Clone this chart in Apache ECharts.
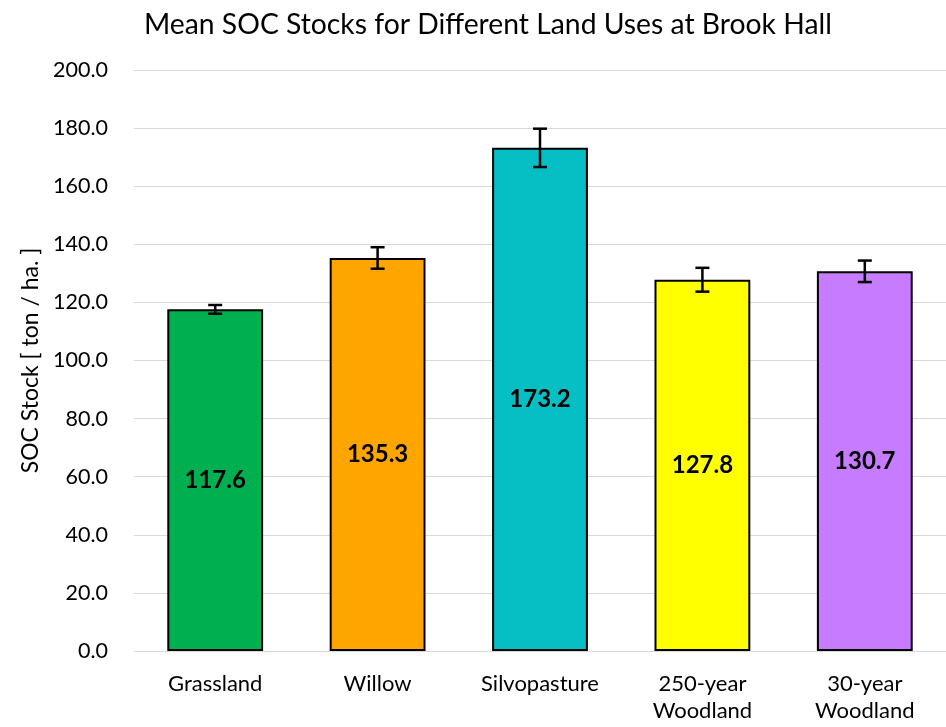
<!DOCTYPE html>
<html>
<head>
<meta charset="utf-8">
<script src="https://cdn.jsdelivr.net/npm/echarts@6/dist/echarts.min.js"></script>
<style>
  html, body { margin: 0; padding: 0; background: #fff; }
  #chart { width: 946px; height: 727px; }
</style>
</head>
<body>
<div id="chart"></div>
<script>
// data
const categories = ["Grassland", "Willow", "Silvopasture", "250-year\nWoodland", "30-year\nWoodland"];
const meanValues = [117.6, 135.3, 173.2, 127.8, 130.7];
const errValues = [1.5, 3.7, 6.6, 4.1, 3.7];
const barColors = ["#00b050", "#ffa500", "#06bfc4", "#ffff00", "#c77cff"];

const font = "Lato, 'DejaVu Sans', sans-serif";

let chart = echarts.init(document.getElementById("chart"));

let option = {
  animation: false,
  title: {
    text: "Mean SOC Stocks for Different Land Uses at Brook Hall",
    left: 139,
    top: 6,
    textStyle: { fontFamily: font, fontSize: 28.3, fontWeight: "normal", color: "#000" }
  },
  grid: { left: 134, right: 0, top: 70, bottom: 76 },
  xAxis: {
    type: "category",
    data: categories,
    axisLine: { lineStyle: { color: "#d9d9d9" } },
    axisTick: { show: false },
    axisLabel: { fontFamily: font, fontSize: 22, color: "#000", margin: 19, lineHeight: 27 }
  },
  yAxis: {
    type: "value",
    min: 0,
    max: 200,
    interval: 20,
    name: "SOC Stock [ ton / ha. ]",
    nameLocation: "middle",
    nameGap: 84,
    nameTextStyle: { fontFamily: font, fontSize: 23, color: "#000" },
    axisLine: { show: false },
    axisTick: { show: false },
    axisLabel: {
      fontFamily: font, fontSize: 21.5, color: "#000", margin: 26,
      formatter: v => v.toFixed(1)
    },
    splitLine: { lineStyle: { color: "#d9d9d9", width: 1 } }
  },
  series: [
    {
      type: "bar",
      barWidth: "59%",
      data: meanValues.map((v, i) => ({
        value: v,
        itemStyle: { color: barColors[i], borderColor: "#000", borderWidth: 2 }
      })),
      label: {
        show: true,
        position: "inside",
        fontFamily: font,
        fontSize: 24,
        fontWeight: "bold",
        color: "#000",
        formatter: p => p.value.toFixed(1)
      },
      z: 2
    },
    {
      type: "custom",
      data: meanValues.map((v, i) => [i, v - errValues[i], v + errValues[i]]),
      renderItem: function (params, api) {
        let lo = api.coord([api.value(0), api.value(1)]);
        let hi = api.coord([api.value(0), api.value(2)]);
        let hw = 7;
        let style = { stroke: "#000", lineWidth: 2.5, fill: null };
        return {
          type: "group",
          children: [
            { type: "line", shape: { x1: hi[0], y1: hi[1], x2: lo[0], y2: lo[1] }, style: style },
            { type: "line", shape: { x1: hi[0] - hw, y1: hi[1], x2: hi[0] + hw, y2: hi[1] }, style: style },
            { type: "line", shape: { x1: lo[0] - hw, y1: lo[1], x2: lo[0] + hw, y2: lo[1] }, style: style }
          ]
        };
      },
      z: 5
    }
  ]
};

chart.setOption(option);
</script>
</body>
</html>
